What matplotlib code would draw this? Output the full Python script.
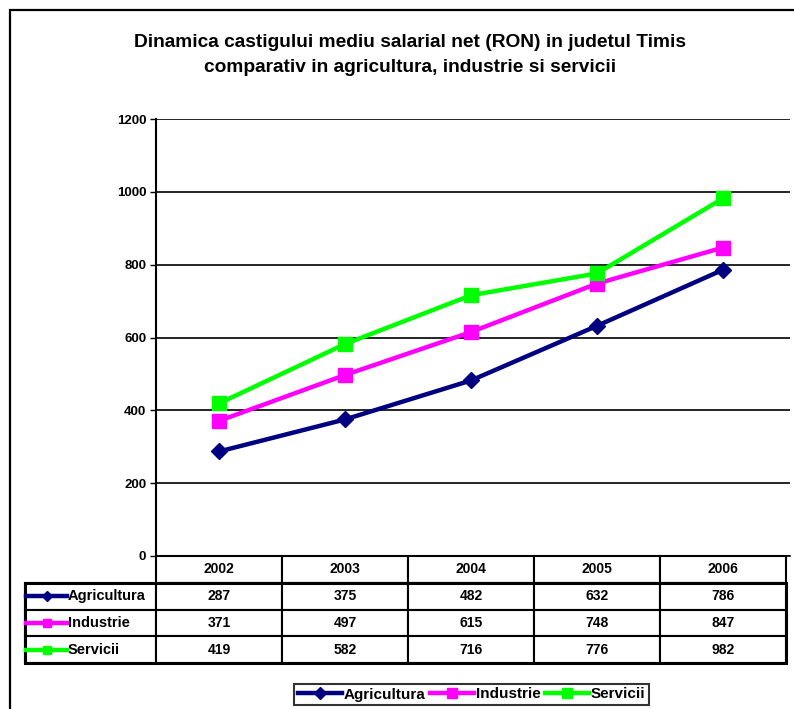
import matplotlib
matplotlib.use("Agg")
import matplotlib.pyplot as plt
from matplotlib.lines import Line2D
from matplotlib.patches import Rectangle

plt.rcParams['font.family'] = ['Liberation Sans', 'DejaVu Sans']

years = ['2002', '2003', '2004', '2005', '2006']
series_names = ['Agricultura', 'Industrie', 'Servicii']
agricultura = [287, 375, 482, 632, 786]
industrie = [371, 497, 615, 748, 847]
servicii = [419, 582, 716, 776, 982]
yticks = [0, 200, 400, 600, 800, 1000, 1200]
title = ("Dinamica castigului mediu salarial net (RON) in judetul Timis\n"
         "comparativ in agricultura, industrie si servicii")

colors = ['#000080', '#FF00FF', '#00FF00']
markers = ['D', 's', 's']
msizes = [8.5, 10.5, 10.5]
values = [agricultura, industrie, servicii]

W, H = 794, 709
fig = plt.figure(figsize=(W / 100, H / 100), dpi=100)

# outer chart border
fig.patches.append(Rectangle((10 / W, -0.05), 1.2, 1 - 10 / H + 0.05,
                             transform=fig.transFigure, fill=False,
                             edgecolor='black', linewidth=1.6))

ax_l, ax_r, ax_t, ax_b = 156, 790, 119, 556
ax = fig.add_axes([ax_l / W, 1 - ax_b / H, (ax_r - ax_l) / W, (ax_b - ax_t) / H])

x = list(range(len(years)))
handles = []
for name, vals, c, m, ms in zip(series_names, values, colors, markers, msizes):
    h, = ax.plot(x, vals, color=c, lw=3.2, marker=m, markersize=ms,
                 markeredgecolor=c, label=name, zorder=3)
    handles.append(h)

tb_r = 786
ax.set_xlim(-0.5, -0.5 + len(years) * (ax_r - ax_l) / (tb_r - ax_l))
ax.set_ylim(0, 1200)
ax.set_yticks(yticks)
ax.set_yticklabels([str(v) for v in yticks], fontsize=9.5, fontweight='bold')
ax.tick_params(axis='y', length=4, width=1, pad=3, direction='out')
ax.set_xticks([])
ax.yaxis.grid(True, color='black', lw=1.2)
ax.set_axisbelow(True)
for s in ['top', 'right']:
    ax.spines[s].set_visible(False)
ax.spines['left'].set_linewidth(1.5)
ax.spines['bottom'].set_linewidth(1.2)

fig.text(0.517, 1 - 55 / H, title, ha='center', va='center', fontsize=13.8,
         fontweight='bold', linespacing=1.6)

# data table
tb_l, tb_b = 25, 663
axw, axh = ax_r - ax_l, ax_b - ax_t
lab_w = ax_l - tb_l
grid_w = tb_r - ax_l
col_w = grid_w / len(years)
cell_text = [[str(v) for v in vals] for vals in values]
tbl = ax.table(cellText=cell_text, colLabels=years,
               colWidths=[col_w / axw] * len(years),
               cellLoc='center',
               bbox=[0, -(tb_b - ax_b) / axh, grid_w / axw, (tb_b - ax_b) / axh])
tbl.auto_set_font_size(False)
row_cell_h = tbl[1, 0].get_height()
for i, n in enumerate(series_names):
    lc = tbl.add_cell(i + 1, -1, width=lab_w / axw, height=row_cell_h,
                      text=n, loc='left')
    lc.PAD = (68 - tb_l) / lab_w
for (r, c), cell in tbl.get_celld().items():
    cell.set_edgecolor('black')
    cell.set_linewidth(1.5)
    cell.get_text().set_fontsize(10)
    cell.get_text().set_fontweight('bold')
    if c == -1:
        cell.get_text().set_fontsize(10.5)

# thicker border around table body
row_h = (tb_b - ax_b) / 4
body_top = ax_b + row_h
ax.add_patch(Rectangle(((tb_l - ax_l) / axw, -(tb_b - ax_b) / axh),
                       (tb_r - tb_l) / axw, (tb_b - body_top) / axh,
                       transform=ax.transAxes, fill=False, edgecolor='black',
                       linewidth=2.2, clip_on=False, zorder=5))

# legend keys in row-label cells
for i, (c, m, ms) in enumerate(zip(colors, markers, msizes)):
    yc = -(body_top + row_h * (i + 0.5) - ax_b) / axh
    x0 = (tb_l + 1 - ax_l) / axw
    x1 = (tb_l + 42 - ax_l) / axw
    ax.add_line(Line2D([x0, x1], [yc, yc], transform=ax.transAxes, color=c,
                       lw=3.2, clip_on=False, zorder=6))
    ax.add_line(Line2D([(x0 + x1) / 2], [yc], transform=ax.transAxes, color=c,
                       marker=m, markersize=ms * 0.6, clip_on=False, zorder=6))

leg = fig.legend(handles=handles, loc='center', ncol=3,
                 bbox_to_anchor=(471.5 / W, 1 - 694.5 / H),
                 frameon=True, fancybox=False, edgecolor='black',
                 prop={'size': 11, 'weight': 'bold'}, handlelength=2.9,
                 handletextpad=0.1, columnspacing=0.3, borderpad=0.25,
                 markerscale=0.7)
leg.get_frame().set_linewidth(1.5)

fig.savefig('out.png', dpi=100)
